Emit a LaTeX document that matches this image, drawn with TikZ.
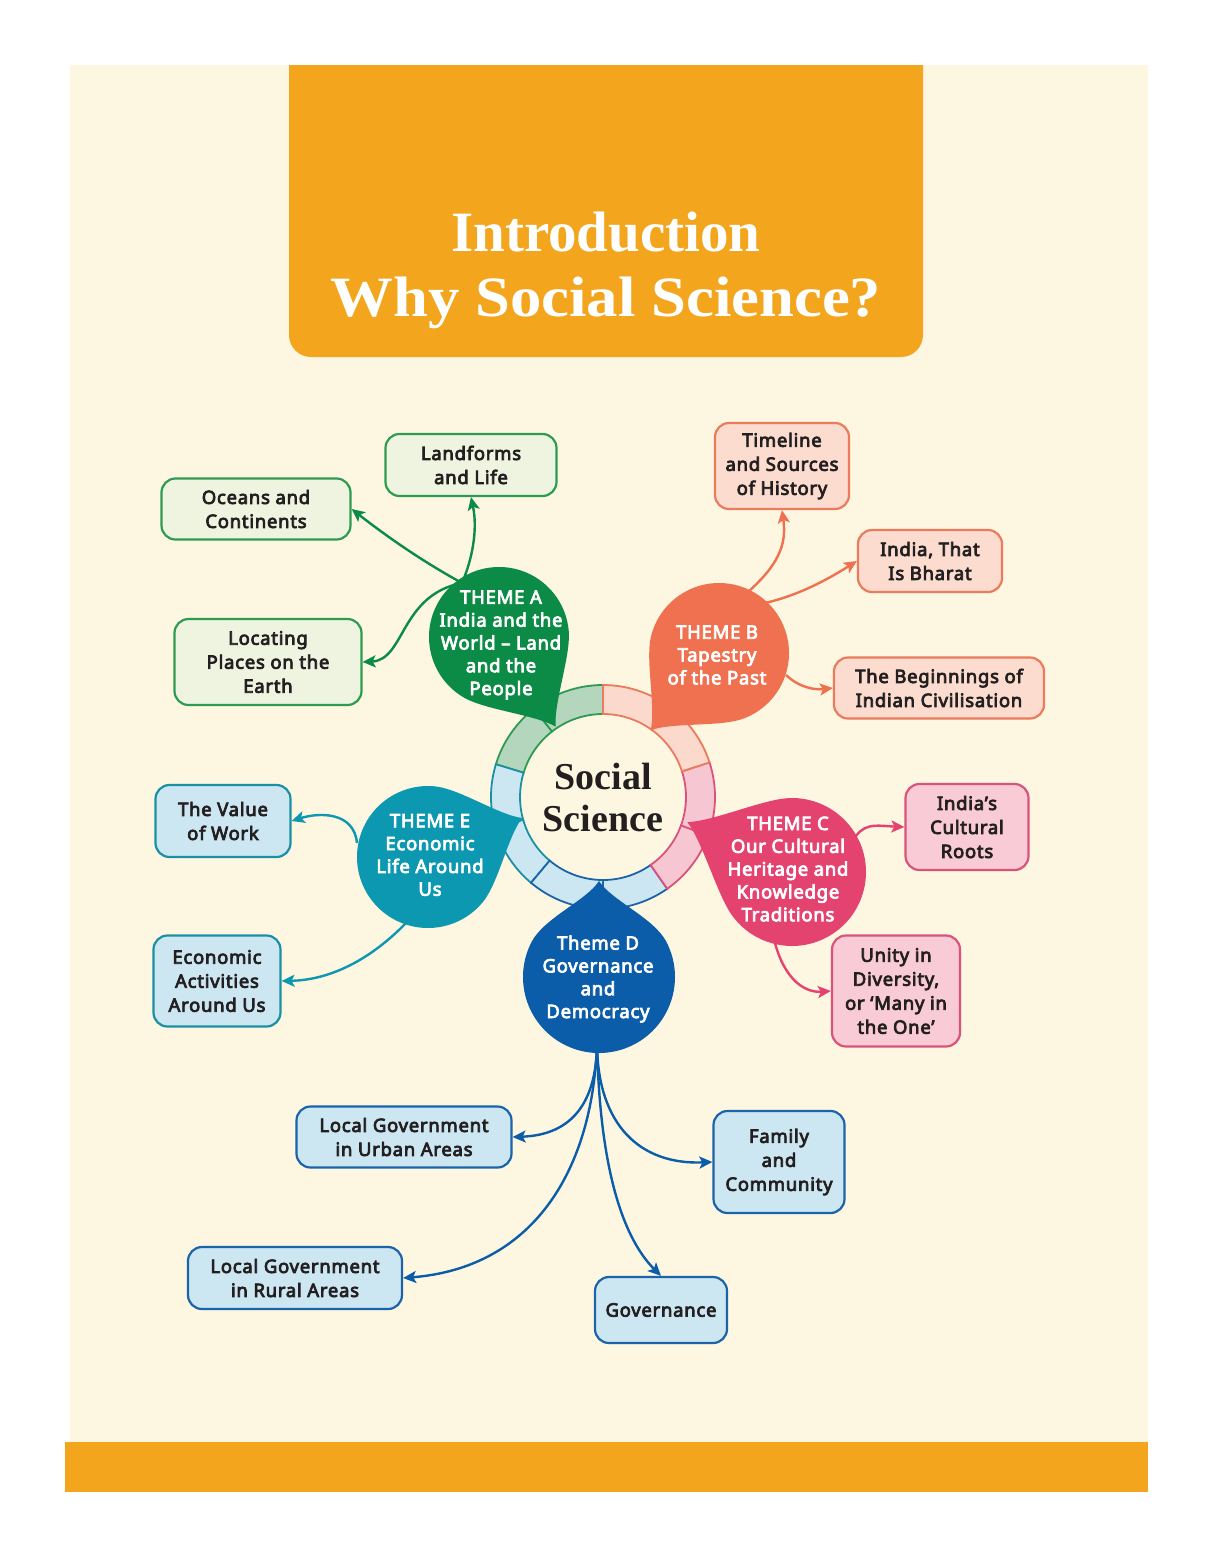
\documentclass[tikz,border=0pt]{standalone}
\usepackage{fontspec}
\usepackage{graphicx}
\setmainfont{Noto Sans}[AutoFakeBold=4,LetterSpace=4]
\newfontfamily\titlefont{Liberation Serif}
\usetikzlibrary{arrows.meta}
\definecolor{cream}{HTML}{FDF6E1}
\definecolor{orangeT}{HTML}{F4A51E}
\definecolor{ink}{HTML}{231F20}
\definecolor{gA}{HTML}{0B8B45}
\definecolor{gAbox}{HTML}{EEF4DF}
\definecolor{gAline}{HTML}{2E9B52}
\definecolor{gAring}{HTML}{B4D6BD}
\definecolor{cB}{HTML}{F0714F}
\definecolor{cBbox}{HTML}{FBDCCF}
\definecolor{cBline}{HTML}{EA7B5C}
\definecolor{cBring}{HTML}{FBD9CC}
\definecolor{pC}{HTML}{E5436F}
\definecolor{pCbox}{HTML}{F8CBD6}
\definecolor{pCline}{HTML}{D9537A}
\definecolor{pCring}{HTML}{F6C7D3}
\definecolor{bD}{HTML}{0B5DA9}
\definecolor{bDline}{HTML}{1B64AA}
\definecolor{blbox}{HTML}{CCE7F2}
\definecolor{tE}{HTML}{0D98B1}
\definecolor{tEline}{HTML}{1A90A4}
% teardrop: colour, cx, cy, angle, tip distance, radius
\newcommand\tdrop[6]{%
 \fill[#1, shift={(#2,#3)}, rotate=#4] (#5,0)
 .. controls ({0.8*#5},{0.16*#6}) and ({#6*cos(62)+0.35*#6*sin(62)},{#6*sin(62)-0.35*#6*cos(62)}) .. (62:#6)
 arc[start angle=62, end angle=298, radius=#6]
 .. controls ({#6*cos(298)-0.35*#6*sin(298)},{#6*sin(298)+0.35*#6*cos(298)}) and ({0.8*#5},{-0.16*#6}) .. cycle;}
% ring segment: start, end, fill, draw
\newcommand\ringseg[4]{%
 \filldraw[fill=#3, draw=#4, line width=1.8pt, shift={(603,-797)}]
 (#1:83) -- (#1:112) arc[start angle=#1, end angle=#2, radius=112] -- (#2:83)
 arc[start angle=#2, end angle=#1, radius=83] -- cycle;}
\tikzset{
 box/.style={draw, rounded corners=14pt, line width=2.2pt, align=center, inner sep=0pt,
   font=\bfseries\fontsize{18.5}{24}\selectfont, text=ink},
 conn/.style={line width=2.4pt, -{Stealth[length=13pt,width=12pt,inset=3pt]}},
 theme/.style={align=center, text=white, inner sep=0pt,
   font=\bfseries\fontsize{18.5}{22.8}\selectfont},
}
\begin{document}
\begin{tikzpicture}[x=1pt,y=1pt]
\useasboundingbox (0,0) rectangle (1213,-1558);
\fill[white] (0,0) rectangle (1213,-1558);
\fill[cream] (70,-65) rectangle (1148,-1442);
\fill[orangeT] (65,-1442) rectangle (1148,-1492);
\fill[orangeT, rounded corners=22pt] (289,-65) -- (289,-357) -- (923,-357) -- (923,-65);
\node[text=white, font=\titlefont\bfseries\fontsize{57}{60}\selectfont] (t1) at (606,-232) {Introduction};
\node[text=white, font=\titlefont\bfseries\fontsize{57}{60}\selectfont] (t2) at (606,-303) {\scalebox{1.1}[1]{Why Social Science?}};

% ring
\ringseg{90}{128}{gAring}{gAline}
\ringseg{128}{163}{gAring}{gAline}
\ringseg{163}{196}{blbox}{tEline}
\ringseg{196}{230}{blbox}{tEline}
\ringseg{230}{270}{blbox}{bDline}
\ringseg{270}{305}{blbox}{bDline}
\ringseg{305}{340}{pCring}{pCline}
\ringseg{340}{378}{pCring}{pCline}
\ringseg{18}{54}{cBring}{cBline}
\ringseg{54}{90}{cBring}{cBline}
\node[circle, minimum size=160pt, inner sep=0pt, align=center, text=ink,
  font=\titlefont\bfseries\fontsize{38}{42}\selectfont] (ss) at (603,-797) {Social\\Science};

% boxes
\node[box, draw=gAline, fill=gAbox, minimum width=171pt, minimum height=62pt] (land) at (471,-465) {Landforms\\and Life};
\node[box, draw=gAline, fill=gAbox, minimum width=189pt, minimum height=61pt] (ocean) at (256,-509) {Oceans and\\Continents};
\node[box, draw=gAline, fill=gAbox, minimum width=187pt, minimum height=86pt] (loc) at (268,-662) {Locating\\Places on the\\Earth};
\node[box, draw=cBline, fill=cBbox, minimum width=134pt, minimum height=86pt] (time) at (782,-466) {Timeline\\and Sources\\of History};
\node[box, draw=cBline, fill=cBbox, minimum width=144pt, minimum height=62pt] (bharat) at (930,-561) {India, That\\Is Bharat};
\node[box, draw=cBline, fill=cBbox, minimum width=210pt, minimum height=61pt] (begin) at (939,-688) {The Beginnings of\\Indian Civilisation};
\node[box, draw=pCline, fill=pCbox, minimum width=123pt, minimum height=86pt] (roots) at (967,-827) {India’s\\Cultural\\Roots};
\node[box, draw=pCline, fill=pCbox, minimum width=128pt, minimum height=111pt] (unity) at (896,-991) {Unity in\\Diversity,\\or ‘Many in\\the One’};
\node[box, draw=tEline, fill=blbox, minimum width=135pt, minimum height=72pt] (work) at (223,-821) {The Value\\of Work};
\node[box, draw=tEline, fill=blbox, minimum width=127pt, minimum height=91pt] (econ) at (217,-981) {Economic\\Activities\\Around Us};
\node[box, draw=bDline, fill=blbox, minimum width=215pt, minimum height=61pt] (urban) at (404,-1137) {Local Government\\in Urban Areas};
\node[box, draw=bDline, fill=blbox, minimum width=131pt, minimum height=102pt] (family) at (779,-1162) {Family\\and\\Community};
\node[box, draw=bDline, fill=blbox, minimum width=214pt, minimum height=62pt] (rural) at (295,-1278) {Local Government\\in Rural Areas};
\node[box, draw=bDline, fill=blbox, minimum width=132pt, minimum height=66pt] (gov) at (661,-1310) {Governance};

% connector start points
\coordinate (Aout) at (462,-583);
\coordinate (Bout1) at (748,-592);
\coordinate (Bout2) at (765,-603);
\coordinate (Bout3) at (786,-675);
\coordinate (Cout1) at (856,-836);
\coordinate (Cout2) at (775,-943);
\coordinate (Eout1) at (357,-843);
\coordinate (Eout2) at (406,-923);
\coordinate (Dout) at (597,-1045);

% connectors
\draw[conn, gA] (Aout) .. controls (472,-560) and (478,-530) .. (land.south);
\draw[conn, gA] (Aout) .. controls (420,-560) and (385,-535) .. (ocean.east);
\draw[conn, gA] (Aout) .. controls (400,-595) and (405,-660) .. (loc.east);
\draw[conn, cB] (Bout1) .. controls (778,-565) and (787,-545) .. (time.south);
\draw[conn, cB] (Bout2) .. controls (800,-595) and (830,-578) .. (bharat.west);
\draw[conn, cB] (Bout3) .. controls (800,-688) and (815,-690) .. (begin.west);
\draw[conn, pC] (Cout1) .. controls (866,-822) and (880,-826) .. (roots.west);
\draw[conn, pC] (Cout2) .. controls (785,-980) and (805,-993) .. (unity.west);
\draw[conn, tE] (Eout1) .. controls (354,-812) and (320,-812) .. (work.east);
\draw[conn, tE] (Eout2) .. controls (370,-960) and (330,-980) .. (econ.east);
\draw[conn, bD] (Dout) .. controls (596,-1105) and (570,-1135) .. (urban.east);
\draw[conn, bD] (Dout) .. controls (598,-1125) and (640,-1165) .. (family.west);
\draw[conn, bD] (Dout) .. controls (592,-1175) and (530,-1268) .. (rural.east);
\draw[conn, bD] (Dout) .. controls (600,-1175) and (625,-1240) .. (gov.north);

% drops
\tdrop{gA}{499}{-637}{-57.7}{106}{70}
\tdrop{cB}{719}{-653}{228.5}{103}{70}
\tdrop{pC}{792}{-872}{154.5}{116}{74}
\tdrop{bD}{599}{-977}{90}{96}{76}
\tdrop{tE}{428}{-857}{22.5}{102}{71}

% theme labels
\node[theme] (thA) at (501,-645) {THEME A\\India and the\\World – Land\\and the\\People};
\node[theme] (thB) at (717,-655) {THEME B\\Tapestry\\of the Past};
\node[theme] (thC) at (788,-869) {THEME C\\Our Cultural\\Heritage and\\Knowledge\\Traditions};
\node[theme] (thD) at (598,-979) {Theme D\\Governance\\and\\Democracy};
\node[theme] (thE) at (430,-855) {THEME E\\Economic\\Life Around\\Us};
\end{tikzpicture}
\end{document}
